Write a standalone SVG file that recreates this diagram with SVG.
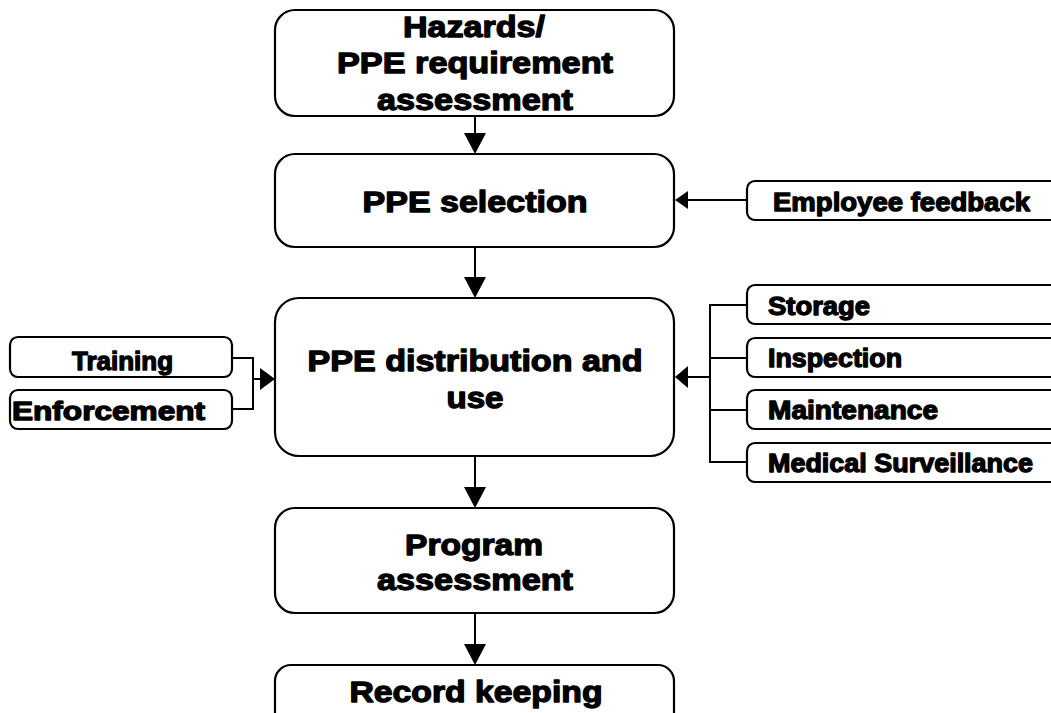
<svg xmlns="http://www.w3.org/2000/svg" width="1051" height="713" viewBox="0 0 1051 713">
<style>
.box{fill:#fff;stroke:#000;stroke-width:2.2}
.t{font-family:"Liberation Sans",Arial,sans-serif;font-weight:bold;fill:#000;stroke:#000;stroke-width:1.3;stroke-linejoin:round}
.big{font-size:30px;text-anchor:middle}
.sm{font-size:26px}
.ln{fill:none;stroke:#000;stroke-width:2}
.ah{fill:#000;stroke:none}
</style>
<rect width="1051" height="713" fill="#fff"/>
<g id="connectors">
<path class="ln" d="M475 116V134M475 247V278M475 456V488M475 613V645"/>
<path class="ah" d="M464 133H486L475 154ZM464 277H486L475 298ZM464 487H486L475 508ZM464 644H486L475 665Z"/>
<path class="ln" d="M747 200H686"/>
<path class="ah" d="M688 191V209L675 200Z"/>
<path class="ln" d="M747 305H710V462H747M710 358H747M710 410H747M710 377H686"/>
<path class="ah" d="M688 366V388L675 377Z"/>
<path class="ln" d="M232 358H253V409H232M253 379H262"/>
<path class="ah" d="M260 368V390L275 379Z"/>
</g>
<g id="hazards">
<rect class="box" x="275" y="10" width="399" height="106" rx="20"/>
<text class="t big" x="474" y="37" textLength="142" lengthAdjust="spacingAndGlyphs">Hazards/</text>
<text class="t big" x="475" y="73" textLength="276" lengthAdjust="spacingAndGlyphs">PPE requirement</text>
<text class="t big" x="475" y="110" textLength="196" lengthAdjust="spacingAndGlyphs">assessment</text>
</g>
<g id="selection">
<rect class="box" x="275" y="154" width="399" height="93" rx="20"/>
<text class="t big" x="475" y="212" textLength="225" lengthAdjust="spacingAndGlyphs">PPE selection</text>
</g>
<g id="distribution">
<rect class="box" x="275" y="298" width="399" height="158" rx="24"/>
<text class="t big" x="475" y="371" textLength="335" lengthAdjust="spacingAndGlyphs">PPE distribution and</text>
<text class="t big" x="475" y="408" textLength="57" lengthAdjust="spacingAndGlyphs">use</text>
</g>
<g id="program">
<rect class="box" x="275" y="508" width="399" height="105" rx="20"/>
<text class="t big" x="474" y="555" textLength="138" lengthAdjust="spacingAndGlyphs">Program</text>
<text class="t big" x="475" y="590" textLength="196" lengthAdjust="spacingAndGlyphs">assessment</text>
</g>
<g id="record">
<rect class="box" x="275" y="665" width="399" height="70" rx="16"/>
<text class="t big" x="476" y="702" textLength="253" lengthAdjust="spacingAndGlyphs">Record keeping</text>
</g>
<g id="feedback">
<rect class="box" x="747" y="181" width="320" height="39" rx="8"/>
<text class="t sm" x="773" y="211" textLength="257" lengthAdjust="spacingAndGlyphs">Employee feedback</text>
</g>
<g id="storage">
<rect class="box" x="747" y="285" width="320" height="39" rx="8"/>
<text class="t sm" x="768" y="315" textLength="102" lengthAdjust="spacingAndGlyphs">Storage</text>
</g>
<g id="inspection">
<rect class="box" x="747" y="338" width="320" height="39" rx="8"/>
<text class="t sm" x="768" y="367" textLength="134" lengthAdjust="spacingAndGlyphs">Inspection</text>
</g>
<g id="maintenance">
<rect class="box" x="747" y="390" width="320" height="39" rx="8"/>
<text class="t sm" x="768" y="419" textLength="170" lengthAdjust="spacingAndGlyphs">Maintenance</text>
</g>
<g id="medical">
<rect class="box" x="747" y="443" width="320" height="39" rx="8"/>
<text class="t sm" x="768" y="472" textLength="265" lengthAdjust="spacingAndGlyphs">Medical Surveillance</text>
</g>
<g id="training">
<rect class="box" x="10" y="337" width="222" height="40" rx="8"/>
<text class="t sm" x="72" y="370" textLength="101" lengthAdjust="spacingAndGlyphs">Training</text>
</g>
<g id="enforcement">
<rect class="box" x="10" y="390" width="222" height="39" rx="8"/>
<text class="t sm" x="12" y="420" textLength="193" lengthAdjust="spacingAndGlyphs">Enforcement</text>
</g>
</svg>
